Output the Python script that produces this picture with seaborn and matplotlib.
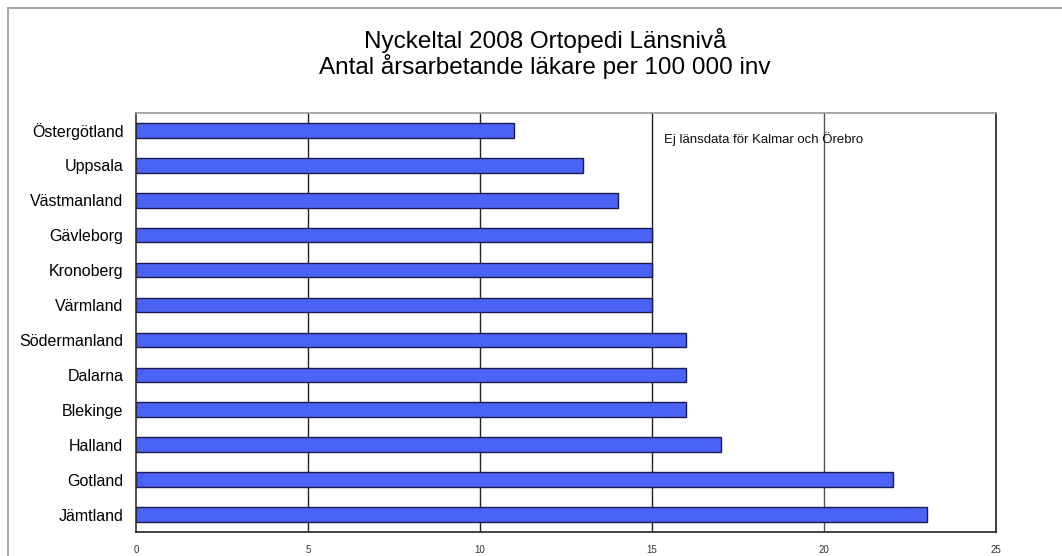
import matplotlib
matplotlib.use("Agg")
import matplotlib.pyplot as plt
import seaborn as sns
import pandas as pd
from matplotlib.patches import Rectangle

lan = ['Östergötland', 'Uppsala', 'Västmanland', 'Gävleborg', 'Kronoberg', 'Värmland',
       'Södermanland', 'Dalarna', 'Blekinge', 'Halland', 'Gotland', 'Jämtland']
lakare = [11, 13, 14, 15, 15, 15, 16, 16, 16, 17, 22, 23]
xticks = [0, 5, 10, 15, 20, 25]

df = pd.DataFrame({'Län': lan, 'Läkare': lakare})

sns.set_style('white')
plt.rcParams['font.family'] = ['Liberation Sans', 'DejaVu Sans']
plt.rcParams['text.color'] = 'black'
plt.rcParams['xtick.color'] = '#222222'
plt.rcParams['ytick.color'] = '#222222'

fig = plt.figure(figsize=(10.62, 5.56), dpi=100)
ax = fig.add_axes([0.128, 0.043, 0.81, 0.754])

# grid first so bars draw over it
for x in xticks[1:]:
    ax.axvline(x, color='#222222' if x != 20 else '#555555', lw=1.0, zorder=0)

sns.barplot(data=df, x='Läkare', y='Län', orient='h', color='#4a63f5', saturation=1,
            edgecolor='#1a1a50', linewidth=1.0, width=0.42, ax=ax, zorder=2)

ax.set_xlim(0, 25)
ax.set_ylim(len(lan) - 0.5, -0.5)
ax.set_xticks(xticks)
ax.set_xlabel('')
ax.set_ylabel('')
ax.tick_params(axis='y', length=0, labelsize=11.5, pad=9, labelcolor='black')
ax.tick_params(axis='x', length=4, direction='out', labelsize=7, pad=5, color='#222222',
               labelcolor='#333333')
ax.set_yticks([i + 0.5 for i in range(-1, len(lan))], minor=True)
ax.tick_params(axis='y', which='minor', length=4, direction='out', color='#333333')

for side, col in [('left', '#333333'), ('top', '#999999'), ('right', '#222222'), ('bottom', '#222222')]:
    ax.spines[side].set_visible(True)
    ax.spines[side].set_color(col)
    ax.spines[side].set_linewidth(1.2)

ax.text(15.35, 0.35, 'Ej länsdata för Kalmar och Örebro', fontsize=9.5, color='#111111', zorder=3)

fig.text(0.513, 0.928, 'Nyckeltal 2008 Ortopedi Länsnivå', ha='center', va='center', fontsize=17.5)
fig.text(0.513, 0.881, 'Antal årsarbetande läkare per 100 000 inv', ha='center', va='center', fontsize=17.5)

fig.add_artist(Rectangle((8 / 1062, -0.1), 1.2, 1 - 8 / 556 + 0.1, transform=fig.transFigure,
                         fill=False, edgecolor='#aaaaaa', lw=1.5))

fig.savefig('out.png', dpi=100)
